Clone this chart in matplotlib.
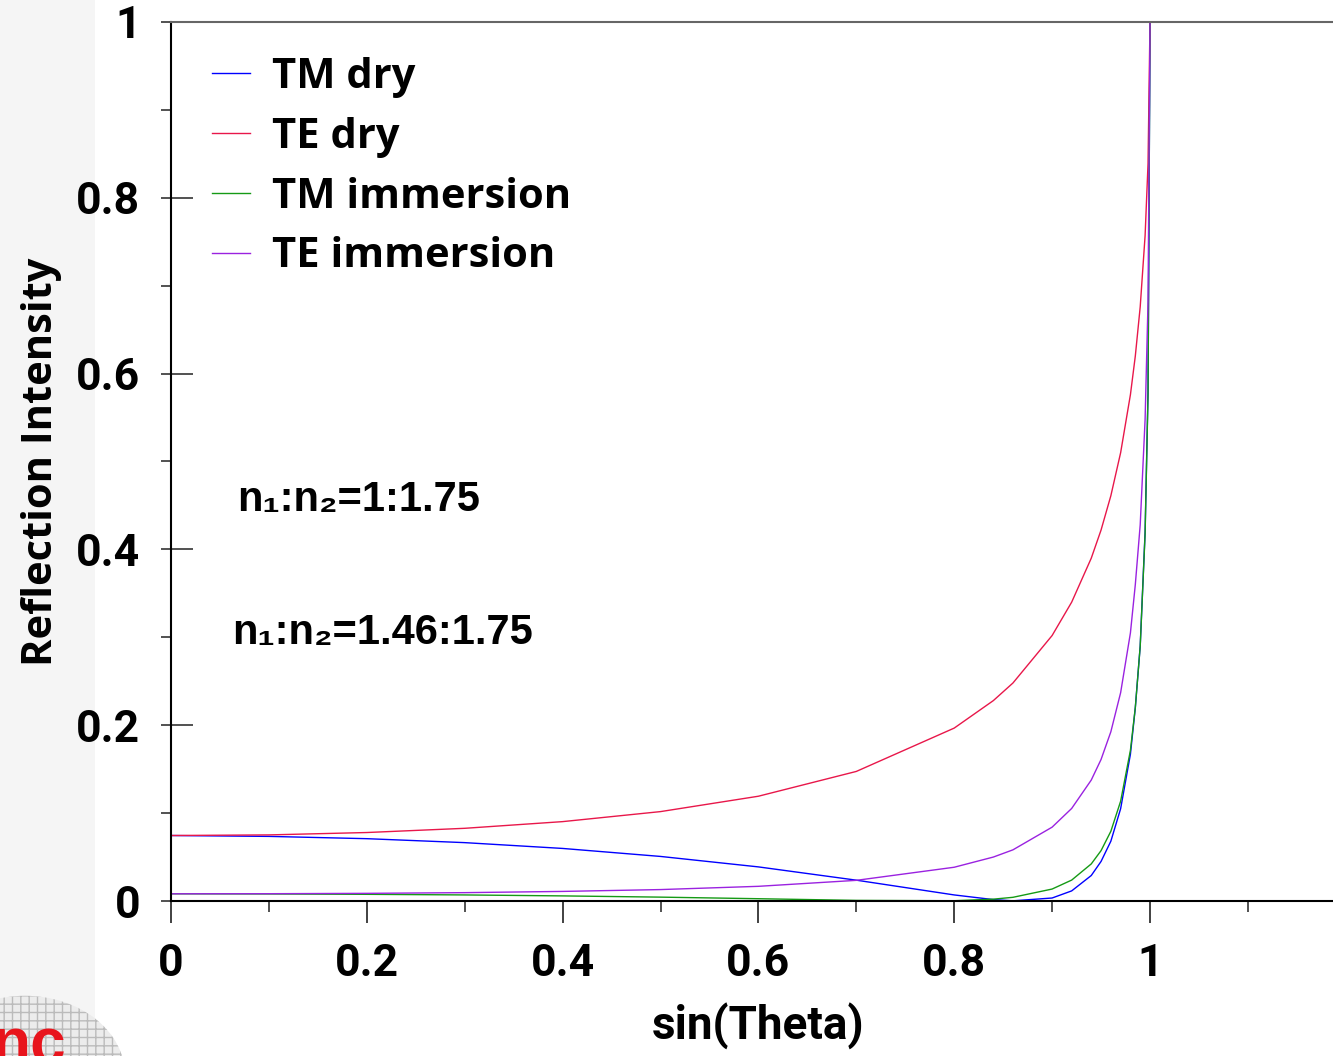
import numpy as np
import matplotlib.pyplot as plt
from matplotlib.patches import Rectangle, Circle
from matplotlib.ticker import FixedLocator, MultipleLocator

# sin(Theta) sample points
sin_theta = [0, 0.1, 0.2, 0.3, 0.4, 0.5, 0.6, 0.7, 0.8, 0.84, 0.86, 0.9,
             0.92, 0.94, 0.95, 0.96, 0.97, 0.98, 0.985, 0.99, 0.995, 0.998, 1.0]

tm_dry = [0.0745, 0.0735, 0.0709, 0.0664, 0.0598, 0.0507, 0.0388, 0.0237, 0.0069,
          0.0016, 0.0002, 0.0034, 0.0115, 0.029, 0.045, 0.068, 0.105, 0.167,
          0.22, 0.29, 0.42, 0.58, 1.0]
te_dry = [0.0745, 0.0752, 0.0779, 0.0827, 0.0903, 0.1017, 0.1192, 0.1474, 0.1967,
          0.228, 0.248, 0.302, 0.34, 0.39, 0.422, 0.461, 0.51, 0.576,
          0.62, 0.676, 0.757, 0.839, 1.0]
tm_imm = [0.0082, 0.0080, 0.0076, 0.0069, 0.0058, 0.0044, 0.0026, 0.0007, 0.0003,
          0.0021, 0.0042, 0.0136, 0.0238, 0.0422, 0.0573, 0.0793, 0.1135, 0.1715,
          0.22, 0.29, 0.418, 0.577, 1.0]
te_imm = [0.0082, 0.0083, 0.0087, 0.0095, 0.0109, 0.013, 0.0167, 0.0235, 0.0384,
          0.05, 0.0582, 0.084, 0.1053, 0.1376, 0.161, 0.1925, 0.237, 0.305,
          0.36, 0.428, 0.548, 0.682, 1.0]

y_ticks = [0, 0.2, 0.4, 0.6, 0.8, 1.0]
y_labels = ["0", "0.2", "0.4", "0.6", "0.8", "1"]
x_ticks = [0, 0.2, 0.4, 0.6, 0.8, 1.0]
x_labels = ["0", "0.2", "0.4", "0.6", "0.8", "1"]

W, H = 1333, 1056
fig = plt.figure(figsize=(W / 100, H / 100), dpi=100)
fig.patch.set_facecolor("white")

# faint slide background on the left
fig.patches.append(Rectangle((0, 0), 95 / W, 1, transform=fig.transFigure,
                             facecolor="#f5f5f5", edgecolor="none", zorder=-5))
fig.patches.append(Circle((25 / W, 1 - 1075 / H), 0.075, transform=fig.transFigure,
                          facecolor="#ececec", edgecolor="#bbbbbb", hatch="++",
                          lw=0, zorder=-4))
fig.text(-8 / W, 1 - 1016 / H, "nc", color="#e8141c", fontsize=46, fontweight="bold",
         va="top", ha="left", family="Liberation Sans", zorder=-3)

ax = fig.add_axes([171 / W, 1 - 901 / H, (W - 171) / W, (901 - 22) / H])
ax.set_facecolor("white")

lw = 1.0
ax.plot(sin_theta, tm_dry, color="#0000ff", lw=lw, label="TM dry")
ax.plot(sin_theta, te_dry, color="#e8174a", lw=lw, label="TE dry")
ax.plot(sin_theta, tm_imm, color="#159a15", lw=lw, label="TM immersion")
ax.plot(sin_theta, te_imm, color="#9a22e0", lw=lw, label="TE immersion")

ax.set_xlim(0, (W - 171) / 979)
ax.set_ylim(0, 1)

for s in ["left", "bottom"]:
    ax.spines[s].set_color("black")
    ax.spines[s].set_linewidth(1.5)
ax.spines["top"].set_color("#666666")
ax.spines["top"].set_linewidth(1.5)
ax.spines["right"].set_visible(False)

tick_font = dict(family="Roboto", weight="bold", size=32)
ax.xaxis.set_major_locator(FixedLocator(x_ticks))
ax.set_xticklabels(x_labels, fontdict=tick_font)
ax.xaxis.set_minor_locator(MultipleLocator(0.1))
ax.yaxis.set_major_locator(FixedLocator(y_ticks))
ax.set_yticklabels(y_labels, fontdict=tick_font)
ax.yaxis.set_minor_locator(MultipleLocator(0.1))

ax.tick_params(axis="x", which="major", direction="out", length=16, width=1.3,
               color="#333333", pad=14)
ax.tick_params(axis="x", which="minor", direction="out", length=8, width=1.2,
               color="#333333")
ax.tick_params(axis="y", which="major", direction="out", length=7, width=1.2,
               color="#333333", pad=15)
ax.tick_params(axis="y", which="minor", direction="out", length=7, width=1.2,
               color="#333333")

# inner part of the major y ticks
sec = ax.secondary_yaxis(0)
sec.yaxis.set_major_locator(FixedLocator(y_ticks))
sec.tick_params(direction="in", length=16, width=1.2, color="#333333",
                labelleft=False)
sec.spines["left"].set_visible(False)

ax.set_xlabel("sin(Theta)", family="Roboto", weight="bold", size=33)
ax.xaxis.set_label_coords((758 - 171) / (W - 171), (901 - 1003) / 879)
ax.set_ylabel("Reflection Intensity", family="Open Sans", weight="bold", size=30)
ax.yaxis.set_label_coords((62 - 171) / (W - 171), 0.5)

leg = ax.legend(loc="upper left", bbox_to_anchor=((212 - 171) / (W - 171), (901 - 57) / 879),
                frameon=False, borderpad=0, borderaxespad=0, handlelength=0.9,
                handletextpad=0.55, labelspacing=0.45,
                prop=dict(family="Open Sans", weight="bold", size=30))

ann_font = dict(family=["Liberation Sans", "DejaVu Sans"], weight="bold", size=30)
ax.text((237 - 171) / 979, (901 - 511) / 879, "n\u2081:n\u2082=1:1.75", ha="left",
        va="baseline", **ann_font)
ax.text((232 - 171) / 979, (901 - 644) / 879, "n\u2081:n\u2082=1.46:1.75", ha="left",
        va="baseline", **ann_font)

fig.savefig("out.png", dpi=100)
